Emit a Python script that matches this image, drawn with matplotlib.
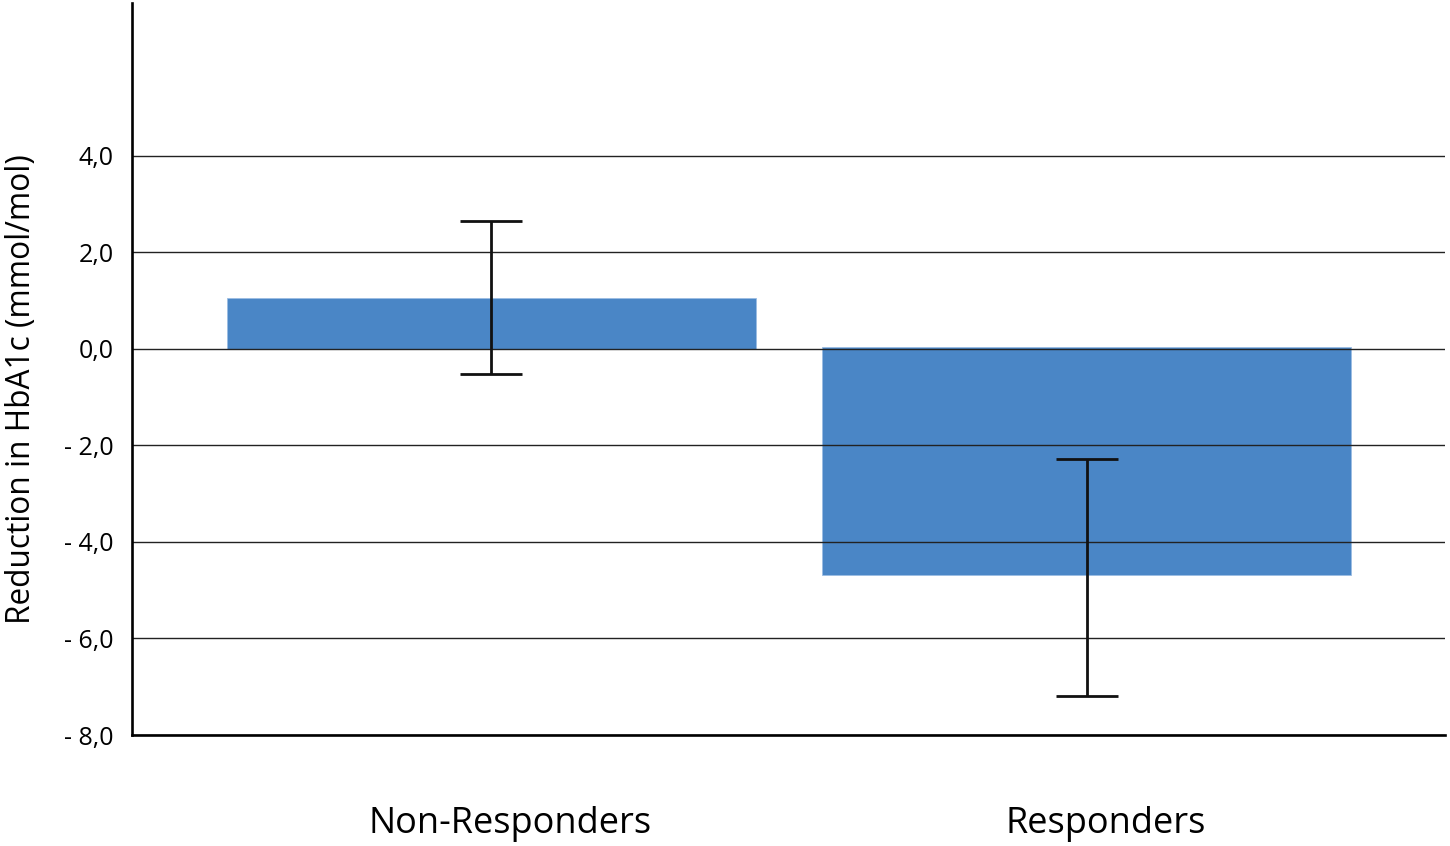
import numpy as np
import matplotlib.pyplot as plt
from matplotlib.transforms import ScaledTranslation

plt.rcParams['font.family'] = ['Open Sans', 'DejaVu Sans']

# values (mmol/mol)
groups = ['Non-Responders', 'Responders']
bar_start = [0.0, 0.05]
bar_end = [1.05, -4.68]
err_low = [-0.52, -7.19]
err_high = [2.65, -2.28]
err_centre = [1.05, -4.68]

yticks = [4.0, 2.0, 0.0, -2.0, -4.0, -6.0, -8.0]
ytick_labels = ['4,0', '2,0', '0,0', '- 2,0', '- 4,0', '- 6,0', '- 8,0']

x = np.arange(len(groups))
heights = [e - s for s, e in zip(bar_start, bar_end)]

fig = plt.figure(figsize=(14.5, 8.46), dpi=100)
ax = fig.add_axes([0.091, 0.1312, 0.9056, 0.8653])

ax.bar(x, heights, bottom=bar_start, width=0.889, color='#4a86c6',
       edgecolor='#9bbde3', linewidth=0.6, zorder=1)

yerr = [np.array(err_centre) - np.array(err_low),
        np.array(err_high) - np.array(err_centre)]
ax.errorbar(x, err_centre, yerr=yerr, fmt='none', ecolor='#111111',
            elinewidth=2.0, capsize=22.5, capthick=2.0, zorder=4)

for yv in yticks:
    ax.axhline(yv, color='#222222', linewidth=1.0, zorder=2)

ax.set_xlim(-0.604, 1.6025)
ax.set_ylim(-8.0, 7.17)
ax.set_yticks(yticks)
ax.set_yticklabels(ytick_labels, fontsize=18)
ax.set_xticks(x)
ax.set_xticklabels(groups, fontsize=26)
ax.tick_params(axis='y', length=0, pad=13)
ax.tick_params(axis='x', length=0, pad=51)
for lab in ax.get_xticklabels():
    lab.set_transform(lab.get_transform() + ScaledTranslation(0.19, 0, fig.dpi_scale_trans))

ax.set_ylabel('Reduction in HbA1c (mmol/mol)', fontsize=22.8)
ax.yaxis.set_label_coords(-0.0715, 0.473)

for side in ['top', 'right']:
    ax.spines[side].set_visible(False)
ax.spines['left'].set_linewidth(1.9)
ax.spines['bottom'].set_linewidth(1.9)
ax.spines['left'].set_zorder(5)
ax.spines['bottom'].set_zorder(5)

fig.savefig('out.png', dpi=100)
